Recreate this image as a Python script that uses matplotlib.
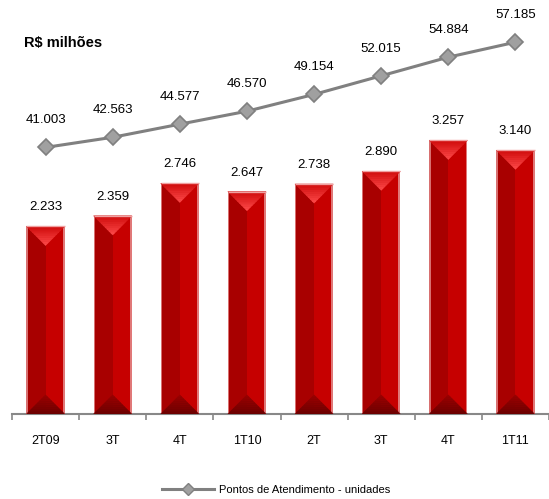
import matplotlib
matplotlib.use("Agg")
import matplotlib.pyplot as plt
from matplotlib.patches import Polygon, Rectangle
from matplotlib.lines import Line2D
from matplotlib.colors import to_rgb

plt.rcParams['font.family'] = ['Liberation Sans', 'DejaVu Sans']

# Receita trimestral (R$ milhões) e pontos de atendimento (unidades)
periodos = ["2T09", "3T", "4T", "1T10", "2T", "3T", "4T", "1T11"]
receita = [2233, 2359, 2746, 2647, 2738, 2890, 3257, 3140]
pontos = [41003, 42563, 44577, 46570, 49154, 52015, 54884, 57185]


def fmt_br(v):
    return f"{v:,.0f}".replace(",", ".")


def mix(c1, c2, t):
    a, b = to_rgb(c1), to_rgb(c2)
    return tuple(a[i] + (b[i] - a[i]) * t for i in range(3))


def bisel(ax, xc, hw, y_base, d, c_base, c_tip, z, n=10):
    # triangulo em faixas horizontais, da base (y_base) ate a ponta
    for k in range(n):
        t0, t1 = k / n, (k + 1) / n
        ya, yb = y_base + d * t0, y_base + d * t1
        wa, wb = hw * (1 - t0), hw * (1 - t1)
        ax.add_patch(Polygon([(xc - wa, ya), (xc + wa, ya), (xc + wb, yb), (xc - wb, yb)],
                             closed=True, facecolor=mix(c_base, c_tip, (t0 + t1) / 2),
                             edgecolor=mix(c_base, c_tip, (t0 + t1) / 2), lw=0.3, zorder=z))


fig = plt.figure(figsize=(5.49, 4.99), dpi=100)
ax = fig.add_axes([12 / 549, 85 / 499, 537 / 549, 394 / 499])
ax2 = ax.twinx()

x = list(range(len(periodos)))
largura = 0.57

ax.set_xlim(-0.5, len(periodos) - 0.5)
ax.set_ylim(0, 4690)
ax2.set_ylim(0, 60600)

barras = ax.bar(x, receita, width=largura, color="#c00000", linewidth=0, zorder=2)

# px por unidade para desenhar o bisel das barras
p0 = ax.transData.transform((0, 0))
p1 = ax.transData.transform((1, 1))
px_x = p1[0] - p0[0]
px_y = p1[1] - p0[1]

for b in barras:
    x0 = b.get_x()
    w = b.get_width()
    h = b.get_height()
    xc = x0 + w / 2
    d = (w / 2) * px_x / px_y
    # metade esquerda mais escura
    ax.add_patch(Rectangle((x0, 0), w / 2, h, facecolor="#a80000", lw=0, zorder=3))
    ax.add_patch(Rectangle((xc, 0), w / 2, h, facecolor="#c60000", lw=0, zorder=3))
    # bordas laterais claras
    ax.add_patch(Rectangle((x0, 0), w * 0.035, h, facecolor="#d87070", lw=0, zorder=4))
    ax.add_patch(Rectangle((x0 + w * 0.95, 0), w * 0.05, h, facecolor="#e07878", lw=0, zorder=4))
    # bisel superior (mais claro na ponta) e inferior (mais escuro na base)
    bisel(ax, xc, w / 2, h, -d, "#cf0a0a", "#ff4c4c", 5)
    bisel(ax, xc, w / 2, 0, d, "#6a0000", "#980000", 5)
    # borda superior clara
    ax.plot([x0, x0 + w], [h, h], color="#f0a0a0", lw=1.0, zorder=7, solid_capstyle="butt")
    ax.annotate(fmt_br(h), (xc, h), xytext=(0, 13), textcoords="offset pixels",
                ha="center", va="bottom", fontsize=9.5, color="#000000")

ax2.plot(x, pontos, color="#808080", lw=2.2, marker="D", markersize=8,
         markerfacecolor="#a0a0a0", markeredgecolor="#808080", markeredgewidth=1.2, zorder=5)
for xi, v in zip(x, pontos):
    ax2.annotate(fmt_br(v), (xi, v), xytext=(0, 21), textcoords="offset pixels",
                 ha="center", va="bottom", fontsize=9.5, color="#000000")

for a in (ax, ax2):
    for s in ("top", "left", "right"):
        a.spines[s].set_visible(False)
ax2.spines["bottom"].set_visible(False)
ax.spines["bottom"].set_color("#888888")
ax.spines["bottom"].set_linewidth(1.5)
ax.set_yticks([])
ax2.set_yticks([])

ax.set_xticks(x)
ax.set_xticklabels(periodos, fontsize=9)
ax.tick_params(axis="x", which="major", length=0, pad=15)
ax.set_xticks([i - 0.5 for i in range(len(periodos) + 1)], minor=True)
ax.tick_params(axis="x", which="minor", length=4, width=1.2, color="#888888", direction="out")

fig.text(24 / 549, 1 - 43 / 499, "R$ milhões", fontsize=10.5, fontweight="bold",
         ha="left", va="center")

handle = Line2D([], [], color="#808080", lw=2.2, marker="D", markersize=6,
                markerfacecolor="#a0a0a0", markeredgecolor="#808080")
fig.legend([handle], ["Pontos de Atendimento - unidades"], loc="center",
           bbox_to_anchor=(0.503, 9 / 499), frameon=False, fontsize=8,
           handlelength=4.7, handletextpad=0.5)

fig.savefig("out.png", dpi=100)
